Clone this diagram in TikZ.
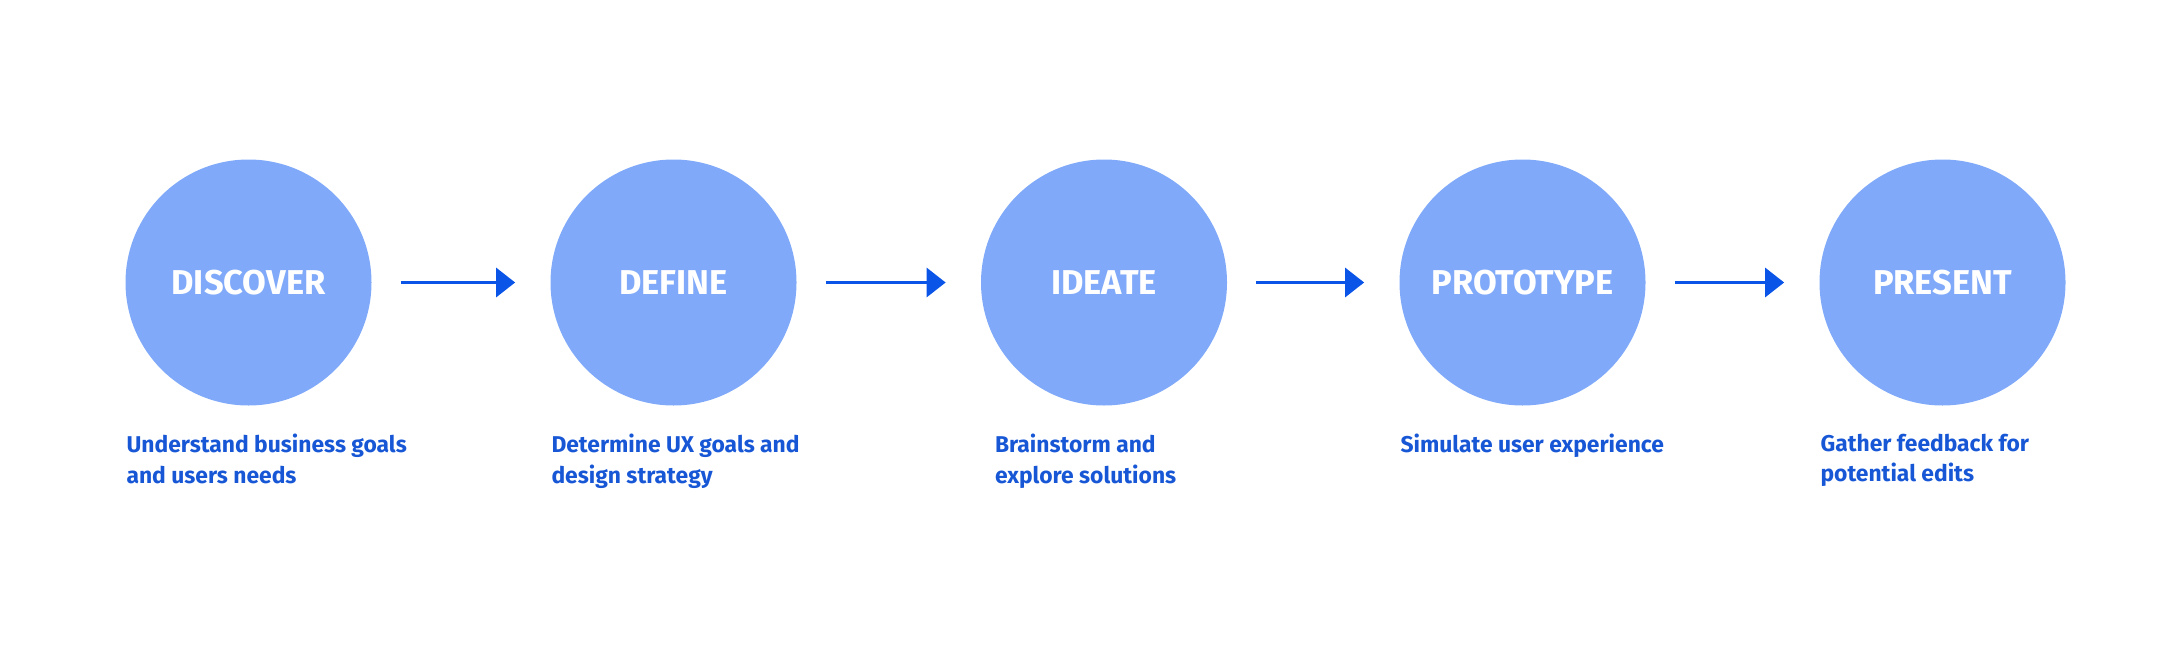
\documentclass[tikz,border=0pt]{standalone}
\usepackage{fontspec}
\setmainfont{Fira Sans}
\usetikzlibrary{arrows.meta,calc}
\definecolor{stepfill}{RGB}{128,170,249}
\definecolor{steptext}{RGB}{23,87,214}
\definecolor{arrowblue}{RGB}{10,85,232}

\begin{document}
\begin{tikzpicture}[
    phase/.style={circle,fill=stepfill,minimum size=4.92cm,inner sep=0pt,
      text=white,font=\fontsize{19.6pt}{22pt}\selectfont\bfseries},
    note/.style={anchor=north west,inner sep=0pt,align=left,text=steptext,
      font=\fontsize{13pt}{17.6pt}\selectfont\bfseries},
    flow/.style={-{Triangle[length=0.38cm,width=0.58cm]},line width=1.7pt,
      arrowblue,shorten <=0.58cm,shorten >=0.7cm}]
  \useasboundingbox (0,0) rectangle (43.44,13.18);
  % the five phases
  \node[phase] (discover)  at (4.97,7.53)  {DISCOVER};
  \node[phase] (define)    at (13.47,7.53) {DEFINE};
  \node[phase] (ideate)    at (22.08,7.53) {IDEATE};
  \node[phase] (prototype) at (30.45,7.53) {PROTOTYPE};
  \node[phase] (present)   at (38.85,7.53) {PRESENT};
  % arrows between phases
  \draw[flow] (discover) -- (define);
  \draw[flow] (define) -- (ideate);
  \draw[flow] (ideate) -- (prototype);
  \draw[flow] (prototype) -- (present);
  % notes under the phases
  \node[note] (discovernote) at ($(discover.west |- discover.south)+(0.02,-0.55)$)
    {Understand business goals\\and users needs};
  \node[note] (definenote) at ($(define.west |- define.south)+(0.02,-0.55)$)
    {Determine UX goals and\\design strategy};
  \node[note] (ideatenote) at ($(ideate.west |- ideate.south)+(0.28,-0.55)$)
    {Brainstorm and\\explore solutions};
  \node[note] (prototypenote) at ($(prototype.west |- prototype.south)+(0.02,-0.55)$)
    {Simulate user experience};
  \node[note] (presentnote) at ($(present.west |- present.south)+(0.02,-0.55)$)
    {Gather feedback for\\potential edits};
\end{tikzpicture}
\end{document}
